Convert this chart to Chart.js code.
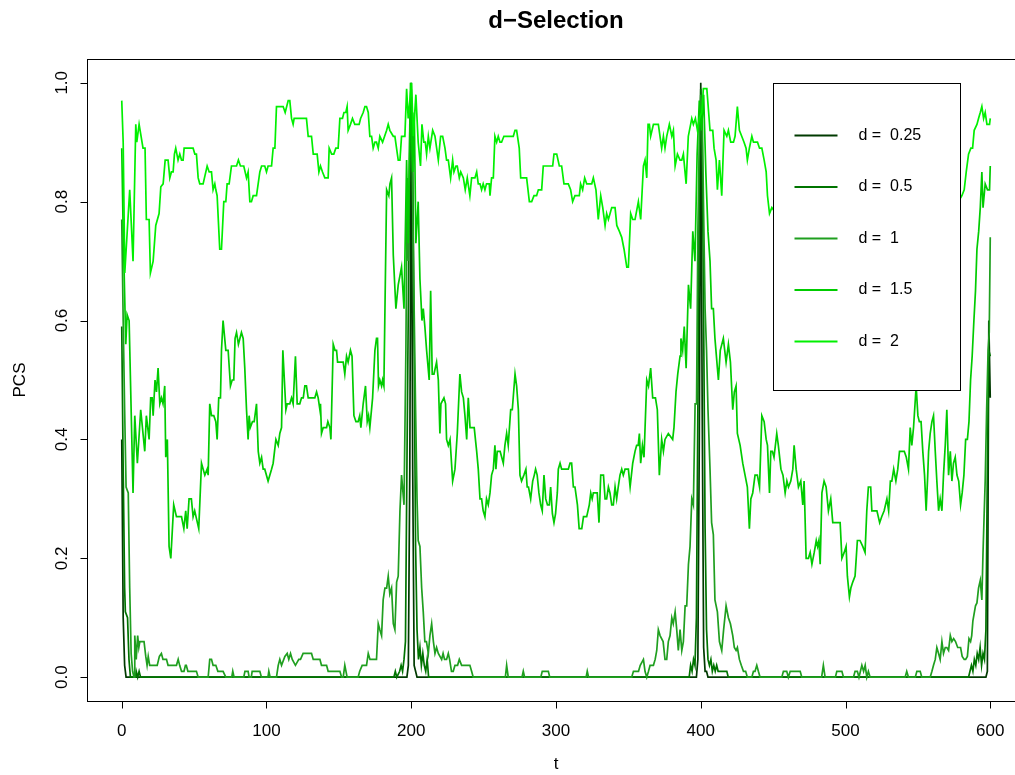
<!DOCTYPE html>
<html><head><meta charset="utf-8">
<script src="https://cdn.jsdelivr.net/npm/chart.js@4.4.1/dist/chart.umd.min.js"></script>
<style>html,body{margin:0;padding:0;overflow:hidden;background:#fff}canvas{display:block}</style>
</head><body>
<canvas id="c" width="1040" height="775" style="width:1040px;height:775px"></canvas>
<script>
const chartTitle = 'd\u2212Selection';
const xTitle = 't';
const yTitle = 'PCS';
const seriesLabels = ['d =  0.25', 'd =  0.5', 'd =  1', 'd =  1.5', 'd =  2'];
const seriesColors = ['#003a00', '#007400', '#1f9f1f', '#00cc00', '#00f000'];
const xTicks = [0, 100, 200, 300, 400, 500, 600];
const yTicks = [0, 0.2, 0.4, 0.6, 0.8, 1.0];
const yTickLabels = ['0.0', '0.2', '0.4', '0.6', '0.8', '1.0'];

// [t, PCS] pairs
const d025 = [[0,0.40],[1,0.10],[2,0.02],[3,0],[197,0],[198,0.02],[199,0.35],[200,1.0],[201,0.35],[202,0.02],[203,0.01],[204,0],[397,0],[398,0.03],[399,0.40],[400,1.0],[401,0.45],[402,0.05],[403,0.01],[404,0.01],[405,0],[597,0],[598,0.01],[599,0.60],[600,0.47]];

const d05 = [[0,0.59],[1,0.35],[2,0.15],[2.5,0.11],[4,0.10],[5,0.03],[6,0],[9.5,0],[10,0.01],[11,0],[12,0.01],[13,0],[188,0],[189,0.01],[190,0],[192,0.01],[193,0.02],[194,0.01],[195,0.03],[196,0.06],[197,0.35],[198,0.63],[199,0.88],[200,0.99],[201,0.88],[202,0.55],[203,0.22],[204,0.08],[205,0.03],[206,0.05],[207,0.02],[208,0.04],[209,0.02],[210,0.01],[211,0.03],[212,0],[392,0],[393,0.02],[394,0.01],[395,0.03],[396,0.02],[397,0.10],[398,0.45],[399,0.85],[400,0.99],[401,0.90],[402,0.60],[403,0.25],[404,0.08],[405,0.03],[406,0.02],[407,0.03],[408,0.01],[409,0.02],[410,0.01],[411,0.02],[412,0.01],[418,0.01],[419,0],[585,0],[586,0.01],[587,0.02],[588,0.01],[589,0.03],[590,0.02],[591,0.04],[592,0.03],[593,0.05],[594,0.02],[595,0.04],[596,0.03],[597,0.08],[598,0.35],[599,0.55],[600,0.54]];

const d1 = [[0,0.77],[1,0.60],[2,0.45],[3,0.32],[4.5,0.31],[5.5,0.15],[6.5,0.04],[7.5,0.01],[8.5,0],[9,0.07],[10,0.03],[11,0.07],[11.8,0.05],[12.5,0.06],[15.4,0.06],[16.6,0.035],[17.5,0.02],[18.3,0.035],[19.3,0.02],[24.5,0.02],[26,0.035],[27.4,0.04],[28.5,0.03],[30.9,0.03],[32,0.02],[37.8,0.02],[39,0.03],[40,0.02],[41.3,0.01],[43,0.01],[44,0.02],[44.6,0.02],[45.7,0.01],[51.6,0.01],[52.8,0],[59.7,0],[60.8,0.03],[62,0.03],[63.1,0.02],[65,0.02],[66.4,0.01],[70,0.01],[71.9,0],[76,0],[76.7,0.01],[77.6,0],[84.3,0],[85.1,0.01],[87.3,0.01],[88,0],[89.5,0],[90.1,0.01],[95.4,0.01],[96.5,0],[101,0],[101.6,0.01],[102.5,0],[106.9,0],[108.1,0.02],[109.2,0.03],[110.4,0.02],[112.7,0.035],[114.3,0.04],[115.4,0.03],[116.6,0.04],[117.8,0.03],[120,0.02],[122.3,0.03],[123.5,0.03],[125.3,0.04],[131.1,0.04],[132.3,0.03],[136.9,0.03],[138,0.02],[141.5,0.02],[142.6,0.01],[150.7,0.01],[151.9,0],[153,0],[154.1,0.02],[155.7,0],[163.3,0],[164.4,0.01],[166.1,0.02],[169.1,0.02],[170.3,0.04],[171.5,0.03],[176,0.03],[177.2,0.09],[178.3,0.08],[179.5,0.07],[180.6,0.13],[181.8,0.15],[183,0.15],[184.1,0.17],[185.2,0.14],[186.4,0.15],[187.6,0.09],[188.7,0.08],[189.9,0.16],[191,0.17],[192.2,0.28],[193.3,0.34],[195,0.29],[196.3,0.55],[197.2,0.84],[198,0.70],[199,0.93],[200,0.97],[201,0.80],[202,0.62],[203,0.45],[204,0.30],[204.8,0.23],[206,0.22],[207.2,0.15],[208.3,0.11],[209.4,0.06],[210.5,0.06],[211.8,0.04],[212.9,0.07],[214.1,0.09],[215.3,0.06],[216.4,0.04],[217.5,0.05],[218.7,0.04],[221,0.03],[222,0.04],[223,0.03],[224.4,0.03],[225.6,0.04],[226.5,0.03],[227.8,0.01],[229,0.01],[230.2,0.02],[232,0.02],[233.2,0.03],[234.8,0.02],[240.5,0.02],[241.7,0.01],[242.8,0],[265,0],[265.9,0.02],[267,0],[276.5,0],[277.4,0.01],[278.3,0],[289.5,0],[290.5,0.01],[294.7,0.01],[295.7,0],[320.8,0],[321.6,0.01],[322.5,0],[352.3,0],[353.5,0.01],[357,0.01],[358.2,0.02],[360.4,0.03],[361.5,0.01],[362.7,0],[363.9,0.01],[365,0.02],[367.3,0.02],[368.5,0.03],[369.6,0.045],[370.7,0.08],[371.9,0.07],[374,0.06],[375.3,0.03],[376.5,0.03],[377.6,0.06],[378.8,0.07],[380,0.10],[381,0.09],[382.3,0.11],[383.4,0.08],[384.5,0.045],[385.7,0.08],[386.9,0.045],[388,0.06],[389.2,0.12],[390.3,0.12],[391.5,0.19],[392.6,0.22],[393.8,0.30],[394.9,0.29],[396.1,0.46],[397.1,0.46],[398,0.75],[399,0.90],[400,0.98],[401,0.95],[402,0.78],[403,0.62],[404,0.55],[405,0.45],[406.4,0.35],[407.5,0.26],[408.7,0.24],[409.8,0.13],[411.5,0.11],[412.9,0.06],[414.5,0.045],[415.8,0.08],[417.5,0.12],[419.1,0.10],[420.5,0.09],[422.1,0.07],[423.2,0.05],[424.4,0.045],[425.3,0.05],[426.7,0.03],[428,0.02],[429.5,0.01],[431,0.01],[432.2,0],[435.3,0],[436.4,0.01],[437.5,0.01],[438.7,0.02],[439.8,0.01],[441,0],[456,0],[457.1,0.01],[459.4,0.01],[460.5,0],[461.8,0.01],[468.7,0.01],[469.8,0],[483.5,0],[484.7,0.02],[485.9,0],[493,0],[494,0.01],[497.5,0.01],[498.6,0],[505.5,0],[506.6,0.01],[508.2,0.01],[509.3,0],[511.3,0.02],[512.5,0.01],[513.6,0.02],[514.7,0],[515.8,0.01],[517,0],[541.2,0],[542.3,0.01],[543.5,0],[548.2,0],[549.3,0.01],[551.6,0.01],[552.7,0],[558.5,0],[559.7,0.01],[560.8,0.02],[562,0.03],[563.1,0.05],[564.3,0.04],[565.4,0.03],[566.6,0.06],[567.7,0.04],[568.9,0.05],[570,0.05],[571.2,0.045],[572.4,0.07],[573.5,0.06],[574.7,0.065],[576,0.06],[577.5,0.05],[579.5,0.05],[580.6,0.035],[582,0.03],[583,0.03],[584.2,0.035],[585.3,0.065],[586.4,0.06],[587.2,0.07],[588,0.095],[589.8,0.12],[590.8,0.125],[591.9,0.15],[593.1,0.163],[594.2,0.13],[595,0.21],[595.8,0.275],[596.5,0.33],[597.5,0.45],[598.5,0.55],[599.3,0.58],[600,0.74]];

const d15 = [[0,0.89],[1,0.75],[2.8,0.56],[3.7,0.61],[5.1,0.60],[7.8,0.31],[9,0.44],[10.8,0.36],[13.1,0.45],[15.9,0.38],[17,0.44],[18.9,0.40],[20,0.47],[21,0.47],[21.7,0.44],[23,0.50],[24,0.48],[25.1,0.52],[26.3,0.46],[27.4,0.47],[28.5,0.46],[29.7,0.49],[30.4,0.37],[31.5,0.40],[32.7,0.22],[33.9,0.20],[35.9,0.29],[37.8,0.27],[41.3,0.27],[42.9,0.25],[44.2,0.28],[45.2,0.25],[46.5,0.30],[48.1,0.30],[49.3,0.27],[50.4,0.28],[53.2,0.25],[55.1,0.36],[57.4,0.34],[59,0.35],[59.7,0.34],[60.8,0.46],[62,0.44],[63.6,0.44],[65,0.43],[65.9,0.40],[67,0.47],[68.2,0.47],[68.9,0.55],[70,0.60],[71.9,0.55],[73.5,0.55],[75.1,0.49],[76.3,0.50],[77.4,0.50],[78.3,0.57],[79.3,0.58],[80.6,0.56],[82.7,0.58],[83.9,0.57],[85,0.52],[86.2,0.45],[87.3,0.40],[88,0.44],[88.8,0.42],[90.3,0.43],[91.5,0.43],[93.1,0.46],[94.3,0.38],[95.4,0.36],[96.6,0.37],[97.7,0.35],[98.8,0.35],[101.1,0.33],[103.5,0.35],[104.6,0.36],[106.5,0.40],[108.1,0.39],[109.2,0.41],[110.4,0.42],[111.3,0.55],[113.4,0.45],[114.3,0.46],[116.1,0.46],[117.3,0.47],[118.4,0.46],[120,0.54],[121.2,0.46],[123,0.46],[124.2,0.47],[125.4,0.47],[126.5,0.49],[127.6,0.49],[128.8,0.47],[133.4,0.47],[134.6,0.48],[135.7,0.47],[136.9,0.45],[137.3,0.46],[138,0.41],[139.2,0.42],[141.5,0.42],[142.4,0.43],[143.8,0.42],[144.5,0.40],[146.1,0.56],[147.3,0.55],[148.4,0.55],[149.1,0.53],[153,0.53],[154.1,0.51],[155.3,0.54],[156.4,0.53],[158,0.55],[159.1,0.54],[160.4,0.44],[161.8,0.43],[163.3,0.43],[164.4,0.44],[165.2,0.42],[166.8,0.46],[168.4,0.49],[169.6,0.43],[170.5,0.44],[171.4,0.42],[173.3,0.47],[174.9,0.55],[176,0.57],[176.7,0.57],[177.4,0.49],[178.3,0.50],[179.5,0.49],[180.2,0.50],[181.1,0.49],[182.3,0.70],[183,0.82],[184.5,0.81],[185.3,0.83],[186.4,0.84],[187.6,0.71],[189.4,0.62],[191,0.66],[193.3,0.69],[195,0.62],[196.8,0.87],[197.9,0.73],[199.5,1.0],[201,0.85],[202.1,0.95],[203.2,0.73],[204.8,0.80],[206,0.67],[207.4,0.60],[208.3,0.62],[209.4,0.59],[210.6,0.55],[212.4,0.50],[213.4,0.65],[214.5,0.51],[215.7,0.51],[217.5,0.53],[218.7,0.50],[219.8,0.41],[220.5,0.46],[222.6,0.47],[223.7,0.46],[224.4,0.40],[225.6,0.39],[226.8,0.40],[228.6,0.33],[230.2,0.35],[231.8,0.41],[233.6,0.51],[234.8,0.48],[236,0.47],[237.1,0.44],[238.3,0.40],[239.4,0.47],[240.6,0.42],[242.4,0.42],[243.5,0.42],[245.2,0.38],[246.3,0.35],[247.5,0.30],[248.6,0.30],[249.7,0.28],[250.9,0.27],[252,0.30],[253.2,0.29],[254.4,0.31],[255.5,0.34],[256.7,0.35],[257.8,0.39],[258.5,0.35],[259.4,0.38],[260.5,0.38],[261.4,0.38],[262.5,0.37],[263.6,0.36],[264.7,0.39],[265.9,0.41],[267,0.39],[268.7,0.45],[269.8,0.45],[271.7,0.51],[272.8,0.49],[274,0.45],[275.1,0.34],[276.2,0.33],[277.8,0.34],[279.2,0.35],[280.1,0.32],[281,0.32],[282.5,0.30],[283.9,0.33],[285,0.34],[285.9,0.35],[287,0.34],[288.2,0.31],[289.4,0.29],[290.5,0.28],[291.7,0.34],[292.9,0.30],[294.1,0.29],[295.4,0.29],[296.3,0.32],[297.5,0.275],[298.6,0.26],[299.7,0.275],[300.9,0.31],[301.6,0.35],[302.8,0.36],[303.9,0.35],[305,0.35],[306.2,0.35],[307.3,0.35],[308.5,0.35],[309.7,0.36],[310.8,0.36],[312,0.32],[313.1,0.32],[314.8,0.29],[316,0.25],[317.8,0.25],[319,0.27],[321.2,0.27],[323,0.29],[324,0.31],[325,0.30],[325.8,0.31],[328.5,0.31],[329.7,0.26],[330.9,0.34],[332.1,0.34],[332.8,0.34],[333.9,0.30],[335,0.30],[336.2,0.32],[337.3,0.31],[338.5,0.29],[339.6,0.29],[340.8,0.32],[341.9,0.30],[343,0.32],[344.2,0.34],[345.4,0.35],[346.5,0.34],[347.7,0.35],[350,0.35],[351.2,0.32],[353,0.36],[354.6,0.38],[355.7,0.39],[356.8,0.39],[357.6,0.41],[358.5,0.36],[359.7,0.39],[360.8,0.37],[362.7,0.50],[363.9,0.49],[365.4,0.52],[366.8,0.47],[368.7,0.47],[370,0.45],[371.4,0.34],[373,0.40],[374.2,0.38],[375.3,0.40],[377.6,0.41],[380.6,0.40],[381.5,0.42],[382.9,0.48],[384.1,0.51],[385.7,0.54],[386.3,0.57],[387.5,0.55],[388.6,0.59],[389.9,0.52],[391.5,0.66],[393,0.62],[394.5,0.75],[396,0.70],[397.5,0.88],[399,0.97],[400.5,0.92],[402,0.98],[403.5,0.85],[405,0.75],[406.4,0.70],[407.5,0.62],[408.7,0.62],[409.8,0.57],[411.5,0.52],[412.2,0.50],[413.5,0.55],[415.6,0.57],[417.5,0.53],[419.1,0.56],[420.5,0.53],[422.1,0.45],[423.2,0.48],[424.4,0.49],[425.3,0.41],[427.2,0.39],[429,0.36],[430.6,0.34],[432.2,0.32],[433.6,0.25],[434.6,0.30],[435.9,0.31],[437.5,0.34],[439.1,0.34],[440.6,0.32],[442.2,0.44],[443.8,0.43],[445.2,0.40],[446.1,0.39],[447.5,0.31],[448.4,0.38],[449.5,0.38],[450.6,0.37],[452.5,0.41],[453.6,0.39],[455.4,0.35],[456.8,0.34],[458.3,0.31],[459.5,0.33],[460.6,0.32],[462.2,0.33],[463.6,0.35],[464.5,0.39],[465.9,0.35],[467.5,0.32],[469.1,0.33],[470.5,0.29],[471.4,0.33],[472.8,0.20],[474.4,0.20],[475.6,0.21],[476.8,0.19],[478.4,0.21],[479.8,0.23],[480.7,0.22],[481.6,0.23],[482.5,0.19],[483.7,0.31],[485.2,0.33],[486.6,0.32],[488.2,0.28],[489.8,0.30],[491.2,0.26],[496.3,0.26],[497.5,0.20],[499.1,0.21],[500.4,0.22],[501.3,0.17],[502.7,0.135],[503.7,0.15],[505,0.16],[506.6,0.17],[508.2,0.23],[510,0.23],[511.9,0.22],[513.5,0.21],[514.7,0.28],[515.8,0.32],[517.4,0.32],[518.2,0.28],[521.7,0.28],[523.6,0.26],[525,0.27],[526.7,0.28],[528.6,0.30],[529.8,0.28],[531,0.33],[532,0.33],[533.3,0.35],[534.8,0.33],[536.1,0.35],[537.3,0.38],[540.6,0.38],[542,0.37],[543.5,0.35],[544.7,0.42],[545.8,0.39],[547,0.42],[548.8,0.49],[550,0.44],[551,0.43],[552.2,0.43],[553.4,0.38],[554.6,0.34],[555.7,0.28],[556.8,0.34],[557.4,0.38],[558.5,0.41],[559.7,0.43],[560.8,0.44],[562,0.38],[563.1,0.33],[564.3,0.28],[565.4,0.30],[566.6,0.28],[567.7,0.34],[568.9,0.39],[570,0.45],[571.2,0.34],[572.4,0.38],[573.5,0.33],[574.6,0.36],[575.8,0.37],[577,0.34],[578.2,0.33],[579.5,0.29],[580.6,0.31],[581.8,0.34],[583,0.40],[584.2,0.40],[585.3,0.43],[586.4,0.50],[587.5,0.54],[588.7,0.60],[589.8,0.65],[590.8,0.72],[592,0.75],[593.1,0.79],[594.2,0.85],[595,0.79],[596.5,0.83],[598.1,0.82],[599.5,0.82],[600,0.86]];

const d2 = [[0,0.97],[1,0.90],[2.1,0.68],[5.5,0.82],[7.8,0.70],[9.7,0.93],[10.4,0.90],[12,0.93],[14.7,0.89],[16.1,0.89],[17,0.77],[18.9,0.77],[19.8,0.68],[21.7,0.70],[23.5,0.76],[25.8,0.78],[27,0.825],[28.6,0.83],[30,0.87],[32,0.87],[33.2,0.84],[34.3,0.85],[35.5,0.85],[36.4,0.88],[37.3,0.89],[38.9,0.87],[40.1,0.88],[41.3,0.87],[42.4,0.87],[43.1,0.89],[49.3,0.89],[50.5,0.88],[51.6,0.88],[52.8,0.84],[53.9,0.83],[56.2,0.83],[59,0.86],[60.4,0.85],[62,0.85],[63.1,0.82],[64.3,0.83],[65,0.82],[65.9,0.81],[67.7,0.72],[68.9,0.72],[70.5,0.80],[71.9,0.80],[72.8,0.83],[74.2,0.83],[75.8,0.86],[79.3,0.86],[80.6,0.87],[82,0.86],[84.3,0.86],[86.2,0.84],[87.3,0.85],[88.5,0.80],[89.6,0.80],[90.8,0.81],[93.1,0.81],[95.4,0.85],[96.6,0.86],[98.8,0.86],[100,0.85],[101.1,0.86],[103.5,0.86],[104.6,0.89],[105.8,0.89],[106.9,0.96],[111.5,0.96],[112.9,0.95],[115,0.97],[116.1,0.97],[117.3,0.94],[118.4,0.93],[119.1,0.94],[127.6,0.94],[128.8,0.91],[131.1,0.91],[132.3,0.88],[135,0.88],[136.2,0.85],[137.3,0.86],[138.7,0.85],[140.3,0.84],[142.6,0.84],[143.3,0.89],[145,0.88],[146.5,0.88],[147.9,0.89],[149.5,0.89],[150.7,0.94],[152.5,0.94],[153.5,0.95],[154.8,0.95],[155.7,0.96],[156.4,0.92],[158,0.93],[159.4,0.94],[161,0.93],[164,0.93],[165,0.94],[166.8,0.95],[168,0.96],[169.1,0.96],[170.3,0.95],[171.4,0.91],[172.6,0.91],[173.7,0.89],[174.9,0.90],[176,0.90],[177.2,0.89],[178.3,0.91],[180.2,0.90],[183,0.92],[184.1,0.93],[185.2,0.92],[187.6,0.91],[188.7,0.91],[191,0.87],[192.2,0.87],[193.3,0.91],[195.6,0.91],[196.8,0.99],[197.9,0.94],[200.2,1.0],[201.4,0.91],[203.2,0.98],[204.8,0.90],[206.4,0.86],[207.4,0.93],[208.7,0.90],[209.7,0.90],[210.6,0.88],[211.8,0.91],[212.9,0.89],[214.8,0.92],[216.4,0.91],[218.7,0.87],[220.3,0.91],[221.7,0.91],[223.3,0.89],[224.4,0.87],[225.6,0.87],[227.2,0.84],[228.6,0.87],[229.5,0.85],[230.9,0.86],[231.8,0.86],[233.2,0.84],[234.2,0.85],[236,0.84],[237.3,0.82],[238.7,0.84],[240.5,0.81],[241.7,0.84],[244,0.84],[245.2,0.85],[246.3,0.83],[247.5,0.83],[248.6,0.82],[249.7,0.83],[250.9,0.82],[252,0.83],[253.9,0.83],[254.4,0.81],[255.5,0.84],[256.7,0.84],[257.8,0.91],[259,0.90],[260.1,0.91],[261.3,0.90],[262.4,0.90],[264,0.91],[270.5,0.91],[271.7,0.92],[272.8,0.92],[274.6,0.89],[275.6,0.84],[279.7,0.84],[281.6,0.80],[283.2,0.80],[284.8,0.81],[286.6,0.81],[287.8,0.82],[290.1,0.82],[291.2,0.86],[297.7,0.86],[298.6,0.88],[300.5,0.88],[302.3,0.86],[303.9,0.86],[305.5,0.83],[308.5,0.83],[310.1,0.82],[311.5,0.80],[313.1,0.81],[316.1,0.81],[317,0.83],[318.4,0.82],[319.8,0.84],[321.2,0.83],[324.7,0.83],[325.8,0.84],[327.6,0.82],[329.2,0.77],[330.9,0.81],[332.3,0.79],[333.9,0.76],[335,0.78],[336.2,0.77],[338.5,0.79],[340.8,0.79],[342,0.76],[343.8,0.75],[345.4,0.74],[347,0.72],[348.9,0.69],[350,0.69],[351.6,0.78],[353,0.77],[354.6,0.77],[356.9,0.80],[358.5,0.77],[360.4,0.86],[361.5,0.87],[362.7,0.84],[363.6,0.93],[364.5,0.93],[365.4,0.91],[367.3,0.93],[370.7,0.93],[373,0.89],[374.2,0.91],[375.3,0.89],[376.5,0.91],[378.3,0.93],[380,0.91],[381.1,0.92],[382.3,0.86],[383.9,0.88],[385.7,0.87],[386.9,0.87],[388,0.88],[389.9,0.83],[391.4,0.91],[393.8,0.94],[394.9,0.93],[396.3,0.94],[397.7,0.92],[399,0.94],[400.7,0.95],[401.8,0.99],[404.2,0.99],[406.4,0.92],[408.3,0.92],[409.2,0.89],[410.6,0.87],[411.5,0.82],[412.9,0.87],[414.5,0.81],[416.1,0.92],[418,0.91],[419.1,0.92],[420.7,0.90],[422.6,0.90],[423.7,0.91],[425.3,0.96],[426.7,0.92],[428.3,0.91],[429.9,0.90],[431.3,0.89],[432.2,0.87],[433.6,0.89],[435.3,0.91],[436.4,0.90],[439.2,0.90],[440.6,0.89],[442.2,0.89],[443.8,0.87],[445.2,0.85],[446.1,0.81],[447.5,0.78],[449.1,0.79],[452,0.78],[456,0.81],[462,0.84],[470,0.85],[480,0.83],[490,0.86],[500,0.84],[510,0.82],[520,0.85],[530,0.86],[540,0.83],[550,0.84],[560,0.80],[570,0.83],[578,0.80],[580.4,0.81],[582,0.82],[583.4,0.85],[585,0.88],[586.6,0.89],[587.8,0.89],[588.9,0.92],[590.8,0.93],[591.9,0.94],[593.1,0.95],[594.2,0.96],[595.4,0.94],[596.5,0.95],[597.7,0.93],[599.5,0.93],[600,0.94]];

const seriesData = [d025, d05, d1, d15, d2];
const FONT = "'Liberation Sans', Arial, Helvetica, sans-serif";

const rPlot = {
  id: 'rPlot',
  afterDraw(chart) {
    const ctx = chart.ctx, a = chart.chartArea;
    const xs = chart.scales.x, ys = chart.scales.y;
    ctx.save();
    ctx.strokeStyle = '#000'; ctx.lineWidth = 1; ctx.fillStyle = '#000';
    // plot box
    ctx.strokeRect(Math.round(a.left) + 0.5, Math.round(a.top) + 0.5, Math.round(a.right - a.left), Math.round(a.bottom - a.top));
    // x axis
    const yb = Math.round(a.bottom) + 0.5;
    ctx.beginPath();
    ctx.moveTo(xs.getPixelForValue(xTicks[0]), yb);
    ctx.lineTo(xs.getPixelForValue(xTicks[xTicks.length - 1]), yb);
    xTicks.forEach(t => { const px = Math.round(xs.getPixelForValue(t)) + 0.5; ctx.moveTo(px, yb); ctx.lineTo(px, yb + 7); });
    ctx.stroke();
    ctx.font = '17px ' + FONT; ctx.textAlign = 'center'; ctx.textBaseline = 'middle';
    xTicks.forEach(t => ctx.fillText(String(t), xs.getPixelForValue(t), a.bottom + 30));
    // y axis
    const xl = Math.round(a.left) + 0.5;
    ctx.beginPath();
    ctx.moveTo(xl, ys.getPixelForValue(yTicks[0]));
    ctx.lineTo(xl, ys.getPixelForValue(yTicks[yTicks.length - 1]));
    yTicks.forEach(v => { const py = Math.round(ys.getPixelForValue(v)) + 0.5; ctx.moveTo(xl, py); ctx.lineTo(xl - 7, py); });
    ctx.stroke();
    yTicks.forEach((v, i) => {
      ctx.save(); ctx.translate(a.left - 25, ys.getPixelForValue(v)); ctx.rotate(-Math.PI / 2);
      ctx.fillText(yTickLabels[i], 0, 0); ctx.restore();
    });
    // axis titles
    ctx.fillText(xTitle, (a.left + a.right) / 2, 764);
    ctx.save(); ctx.translate(20, (a.top + a.bottom) / 2); ctx.rotate(-Math.PI / 2);
    ctx.fillText(yTitle, 0, 0); ctx.restore();
    // main title
    ctx.font = 'bold 24px ' + FONT;
    ctx.fillText(chartTitle, (a.left + a.right) / 2, 21);
    // legend
    const lx = Math.round(xs.getPixelForValue(450)) + 0.5, ly = Math.round(ys.getPixelForValue(1.0)) + 0.5;
    const lw = 187, lh = 307;
    ctx.fillStyle = '#fff'; ctx.fillRect(lx, ly, lw, lh);
    ctx.strokeStyle = '#000'; ctx.strokeRect(lx, ly, lw, lh);
    ctx.font = '16px ' + FONT; ctx.textAlign = 'left';
    seriesLabels.forEach((lab, i) => {
      const yy = ly + 52 + i * 51.5;
      ctx.strokeStyle = seriesColors[i]; ctx.lineWidth = 2;
      ctx.beginPath(); ctx.moveTo(lx + 21, yy); ctx.lineTo(lx + 64, yy); ctx.stroke();
      ctx.fillStyle = '#000';
      ctx.fillText(lab, lx + 85, yy);
    });
    ctx.restore();
  }
};

new Chart(document.getElementById('c'), {
  type: 'line',
  data: {
    datasets: seriesData.map((arr, i) => ({
      label: seriesLabels[i],
      data: arr.map(p => ({ x: p[0], y: p[1] })),
      borderColor: seriesColors[i],
      backgroundColor: seriesColors[i],
      borderWidth: 1.7,
      pointRadius: 0,
      tension: 0,
      fill: false,
      order: seriesData.length - 1 - i
    }))
  },
  options: {
    responsive: false,
    animation: false,
    devicePixelRatio: 1,
    layout: { padding: { top: 59, right: 15, left: 0, bottom: 0 } },
    plugins: { legend: { display: false }, title: { display: false }, tooltip: { enabled: false } },
    scales: {
      x: {
        type: 'linear', min: -24, max: 624,
        grid: { display: false, drawTicks: false }, border: { display: false },
        ticks: { display: false },
        afterFit(s) { s.height = 74; }
      },
      y: {
        type: 'linear', min: -0.04, max: 1.04,
        grid: { display: false, drawTicks: false }, border: { display: false },
        ticks: { display: false },
        afterFit(s) { s.width = 87; }
      }
    }
  },
  plugins: [rPlot]
});
</script>
</body></html>
